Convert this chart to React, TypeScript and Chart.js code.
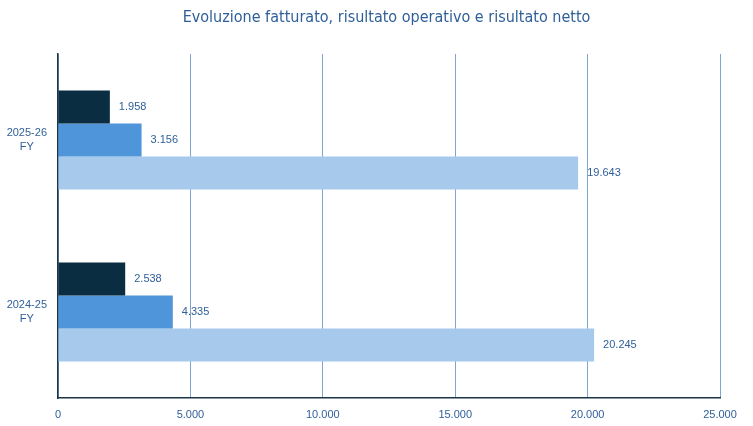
import React, { useEffect, useRef } from "react";
import { Chart, registerables } from "chart.js";

Chart.register(...registerables);

const titleText = "Evoluzione fatturato, risultato operativo e risultato netto";
const categories: string[][] = [["2025-26", "FY"], ["2024-25", "FY"]];
const netResult: number[] = [1958, 2538];
const operatingResult: number[] = [3156, 4335];
const revenue: number[] = [19643, 20245];
const xTicks: number[] = [0, 5000, 10000, 15000, 20000, 25000];

const fmt = (v: number) =>
  Math.round(v)
    .toString()
    .replace(/\B(?=(\d{3})+(?!\d))/g, ".");

const labelColor = "#2f5f98";

const valueLabels = {
  id: "valueLabels",
  afterDatasetsDraw(chart: any) {
    const ctx = chart.ctx;
    ctx.save();
    ctx.font = "11px 'Liberation Sans', Arial, sans-serif";
    ctx.fillStyle = labelColor;
    ctx.textBaseline = "middle";
    ctx.textAlign = "left";
    chart.data.datasets.forEach((ds: any, i: number) => {
      const meta = chart.getDatasetMeta(i);
      meta.data.forEach((el: any, j: number) => {
        ctx.fillText(fmt(ds.data[j]), el.x + 9, el.y);
      });
    });
    ctx.restore();
  },
};

const centeredTitle = {
  id: "centeredTitle",
  afterDraw(chart: any) {
    const ctx = chart.ctx;
    ctx.save();
    ctx.font = "16px 'Liberation Sans Narrow', 'DejaVu Sans Condensed', sans-serif";
    ctx.fillStyle = labelColor;
    ctx.textAlign = "center";
    ctx.textBaseline = "middle";
    ctx.fillText(titleText, chart.width / 2 + 10, 18);
    ctx.restore();
  },
};

export default function App() {
  const ref = useRef<HTMLCanvasElement | null>(null);
  useEffect(() => {
    if (!ref.current) return;
    const chart = new Chart(ref.current, {
      type: "bar",
      data: {
        labels: categories,
        datasets: [
          { label: "Risultato netto", data: netResult, backgroundColor: "#0b2d41", borderWidth: 0 },
          { label: "Risultato operativo", data: operatingResult, backgroundColor: "#4e95d9", borderWidth: 0 },
          { label: "Fatturato", data: revenue, backgroundColor: "#a6c9ec", borderWidth: 0 },
        ],
      },
      options: {
        indexAxis: "y",
        animation: false,
        responsive: false,
        maintainAspectRatio: false,
        layout: { padding: { left: 0, right: 33, top: 54, bottom: 0 } },
        datasets: { bar: { categoryPercentage: 0.576, barPercentage: 1 } } as any,
        plugins: {
          legend: { display: false },
          tooltip: { enabled: false },
          title: { display: false },
        },
        scales: {
          x: {
            min: 0,
            max: 25000,
            afterBuildTicks(scale: any) {
              scale.ticks = xTicks.map((v) => ({ value: v }));
            },
            afterFit(scale: any) {
              scale.height = 28;
            },
            ticks: {
              color: labelColor,
              font: { family: "'Liberation Sans Narrow', 'Liberation Sans', sans-serif", size: 11 },
              padding: 10,
              callback: (v: any) => fmt(Number(v)),
              maxRotation: 0,
            },
            grid: { color: "#7fa6cf", lineWidth: 1, drawTicks: false },
            border: { display: true, color: "#1d3447", width: 1.5 },
          },
          y: {
            afterFit(scale: any) {
              scale.width = 58;
            },
            ticks: {
              color: labelColor,
              font: { family: "'Liberation Sans', Arial, sans-serif", size: 11, lineHeight: 1.35 },
              crossAlign: "center",
              padding: 11,
            },
            grid: { display: false, drawTicks: false },
            border: { display: true, color: "#1d3447", width: 1.5 },
          },
        },
      },
      plugins: [valueLabels, centeredTitle],
    });
    return () => chart.destroy();
  }, []);
  return (
    <div style={{ position: "fixed", left: 0, top: 0, width: 753, height: 426, background: "#fff" }}>
      <canvas ref={ref} width={753} height={426} style={{ width: 753, height: 426 }} />
    </div>
  );
}
